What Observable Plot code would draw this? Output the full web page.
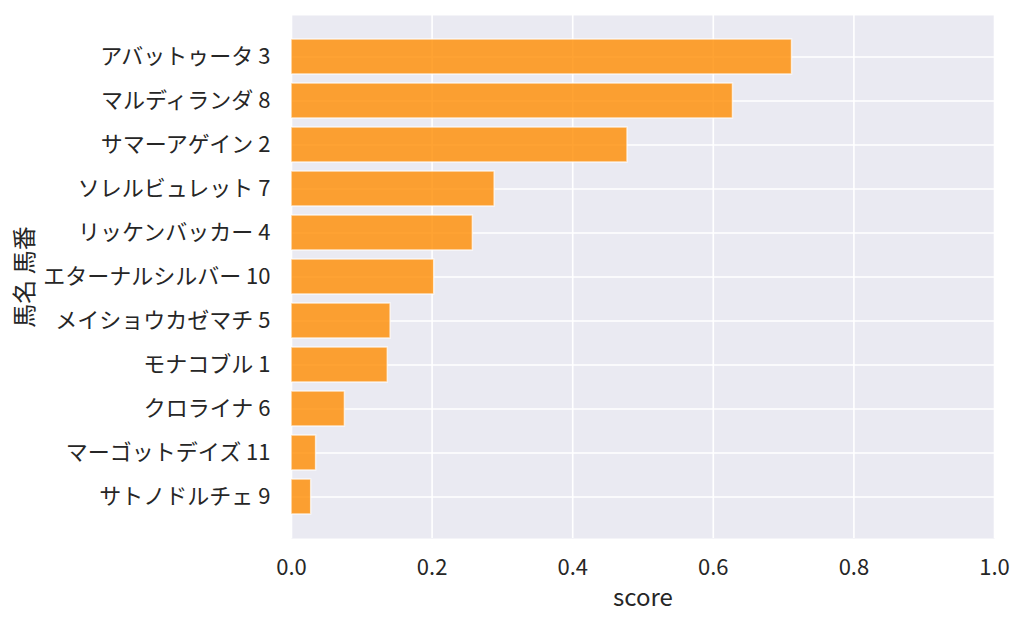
<!DOCTYPE html>
<html>
<head>
<meta charset="utf-8">
<script src="https://cdn.jsdelivr.net/npm/d3@7"></script>
<script src="https://cdn.jsdelivr.net/npm/@observablehq/plot@0.6"></script>
<style>
  html, body { margin: 0; padding: 0; background: #fff; }
  #chart svg { display: block; }
</style>
</head>
<body>
<div id="chart"></div>
<script>
const horses = ["アバットゥータ 3", "マルディランダ 8", "サマーアゲイン 2", "ソレルビュレット 7", "リッケンバッカー 4", "エターナルシルバー 10", "メイショウカゼマチ 5", "モナコブル 1", "クロライナ 6", "マーゴットデイズ 11", "サトノドルチェ 9"];
const scores = [0.712, 0.628, 0.478, 0.289, 0.258, 0.203, 0.141, 0.137, 0.076, 0.035, 0.028];
const xTicks = [0, 0.2, 0.4, 0.6, 0.8, 1.0];
const xLabel = "score";
const yLabel = "馬名 馬番";

const data = horses.map((h, i) => ({horse: h, score: scores[i]}));
const textColor = "#262626";
const font = "'Noto Sans CJK JP', 'Noto Sans', sans-serif";

const chart = Plot.plot({
  width: 1024,
  height: 627,
  marginLeft: 291,
  marginRight: 30,
  marginTop: 15,
  marginBottom: 89,
  style: {fontFamily: font, fontSize: "22px", color: textColor, background: "#fff"},
  x: {domain: [0, 1], ticks: xTicks},
  y: {domain: horses, paddingInner: 0.2, paddingOuter: 0.516, align: 0.5},
  marks: [
    Plot.frame({fill: "#eaeaf2", stroke: null}),
    Plot.ruleX(xTicks, {stroke: "#fff", strokeWidth: 1.6}),
    Plot.tickY(horses, {y: d => d, stroke: "#fff", strokeWidth: 1.6}),
    Plot.barX(data, {x: "score", y: "horse", fill: "#ff8c00", fillOpacity: 0.8, stroke: "#fff", strokeOpacity: 0.7, strokeWidth: 1.5}),
    Plot.axisX({ticks: xTicks, tickFormat: d3.format(".1f"), tickSize: 0, tickPadding: 21, fontSize: 22, fill: textColor, label: null}),
    Plot.axisY({tickSize: 0, tickPadding: 21, fontSize: 22, fill: textColor, label: null}),
    Plot.text([xLabel], {frameAnchor: "bottom", dy: 67, fontSize: 24, fill: textColor, textAnchor: "middle"}),
    Plot.text([yLabel], {frameAnchor: "left", rotate: -90, dx: -266, fontSize: 24, fill: textColor, textAnchor: "middle"})
  ]
});
document.getElementById("chart").appendChild(chart);
</script>
</body>
</html>
